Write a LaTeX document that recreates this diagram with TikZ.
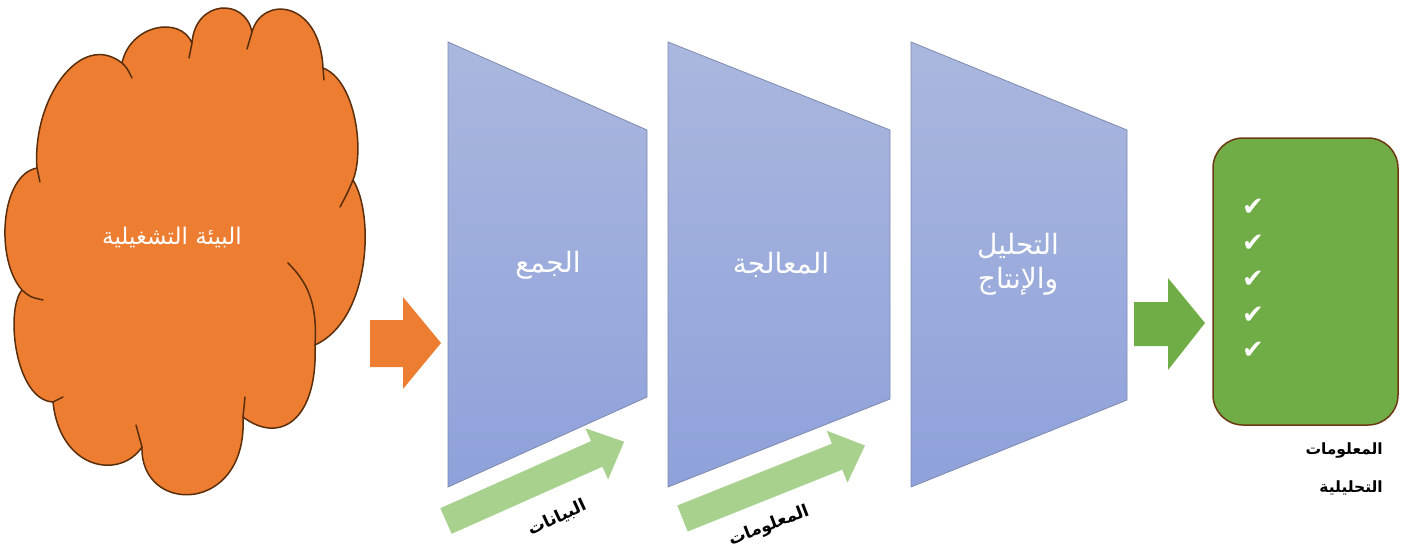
\documentclass[tikz,border=0pt]{standalone}
\usepackage{fontspec}
\newfontfamily\arabicfont[Script=Arabic]{DejaVu Sans}
\newfontfamily\symfont{DejaVu Sans}
\TeXXeTstate=1
\definecolor{cloudfill}{HTML}{ED7D31}
\definecolor{cloudline}{HTML}{5A2E0A}
\definecolor{trtop}{HTML}{AAB7DE}
\definecolor{trbot}{HTML}{8EA1DA}
\definecolor{trline}{HTML}{7F8AAE}
\definecolor{boxfill}{HTML}{70AD47}
\definecolor{boxline}{HTML}{6B3A12}
\definecolor{lgreen}{HTML}{A9D18E}
\begin{document}
\begin{tikzpicture}[x=1pt,y=-1pt,
  trap/.style={top color=trtop,bottom color=trbot,draw=trline,line width=0.8pt},
  wlabel/.style={text=white,font=\arabicfont\fontsize{28}{34}\selectfont,align=center,inner sep=0},
  blabel/.style={text=black,font=\arabicfont\bfseries\fontsize{17}{20}\selectfont,inner sep=0},
  rlabel/.style={text=black,font=\arabicfont\bfseries\fontsize{15.5}{18}\selectfont,inner sep=0,anchor=east},
  bigarrow/.style={fill=#1,draw=none},
  diag/.style={fill=lgreen,draw=none},
  tick/.style={text=white,font=\symfont\fontsize{26}{28}\selectfont,inner sep=0}]
\useasboundingbox (0,0) rectangle (1410,551);
% cloud
\path[fill=cloudfill,draw=cloudline,line width=1.5pt,line join=round]
 (37,168) .. controls (32,100) and (80,30) .. (122,63)
 .. controls (130,25) and (180,15) .. (192,43)
 .. controls (195,0) and (245,-3) .. (252,32)
 .. controls (262,-5) and (320,0) .. (323,68)
 .. controls (355,80) and (365,150) .. (353,180)
 .. controls (375,215) and (370,320) .. (315,345)
 .. controls (318,420) and (280,445) .. (243,417)
 .. controls (248,515) and (140,515) .. (142,447)
 .. controls (120,480) and (60,470) .. (53,402)
 .. controls (15,400) and (5,310) .. (22,290)
 .. controls (-5,260) and (0,175) .. (37,168) -- cycle;
\begin{scope}[draw=cloudline,line width=1.5pt,line cap=round]
 \draw (37,168) -- (40,182);
 \draw (122,63) .. controls (127,68) .. (132,78);
 \draw (192,43) -- (189,58);
 \draw (252,32) -- (247,49);
 \draw (323,68) -- (324,80);
 \draw (353,180) .. controls (348,192) .. (340,207);
 \draw (315,345) .. controls (318,300) and (305,280) .. (288,263);
 \draw (243,417) -- (245,397);
 \draw (142,447) -- (136,425);
 \draw (53,402) -- (63,397);
 \draw (22,290) .. controls (30,297) .. (43,300);
\end{scope}
\node[wlabel,font=\arabicfont\fontsize{23}{28}\selectfont] (env) at (172,237) {\beginR البيئة التشغيلية\endR};
% orange arrow
\path[bigarrow=cloudfill] (370,320) -- (403,320) -- (403,297) -- (441,343) -- (403,389) -- (403,367) -- (370,367) -- cycle;
% trapezoids
\path[trap] (448,42) -- (647,130) -- (647,397) -- (448,487) -- cycle;
\path[trap] (668,42) -- (890,130) -- (890,399) -- (668,487) -- cycle;
\path[trap] (911,42) -- (1127,130) -- (1127,400) -- (911,487) -- cycle;
\node[wlabel] (collect) at (548,265) {\beginR الجمع\endR};
\node[wlabel] (process) at (781,265) {\beginR المعالجة\endR};
\node[wlabel] (analyze) at (1018,264) {\beginR التحليل\endR\\[0pt]\beginR والإنتاج\endR};
% diagonal arrows
\begin{scope}[shift={(446,521)},rotate=24]
 \path[diag] (0,-14) -- (165,-14) -- (165,-28) -- (195,0) -- (165,28) -- (165,14) -- (0,14) -- cycle;
\end{scope}
\begin{scope}[shift={(682.5,518.5)},rotate=21.8]
 \path[diag] (0,-14) -- (166.5,-14) -- (166.5,-28) -- (196.5,0) -- (166.5,28) -- (166.5,14) -- (0,14) -- cycle;
\end{scope}
\node[blabel,rotate=25] (data) at (557,518) {\beginR البيانات\endR};
\node[blabel,rotate=21] (info) at (769,526) {\beginR المعلومات\endR};
% green arrow
\path[bigarrow=boxfill] (1134,302) -- (1168,302) -- (1168,278) -- (1205,323) -- (1168,370) -- (1168,346) -- (1134,346) -- cycle;
% result box
\draw[fill=boxfill,draw=boxline,line width=1.5pt,rounded corners=30pt] (1213,138) rectangle (1398,425);
\node[tick] (t1) at (1253,207) {✔};
\node[tick] (t2) at (1253,243) {✔};
\node[tick] (t3) at (1253,279) {✔};
\node[tick] (t4) at (1253,315) {✔};
\node[tick] (t5) at (1253,350) {✔};
\node[rlabel] (r1) at (1383,450) {\beginR المعلومات\endR};
\node[rlabel] (r2) at (1383,488) {\beginR التحليلية\endR};
\end{tikzpicture}
\end{document}
